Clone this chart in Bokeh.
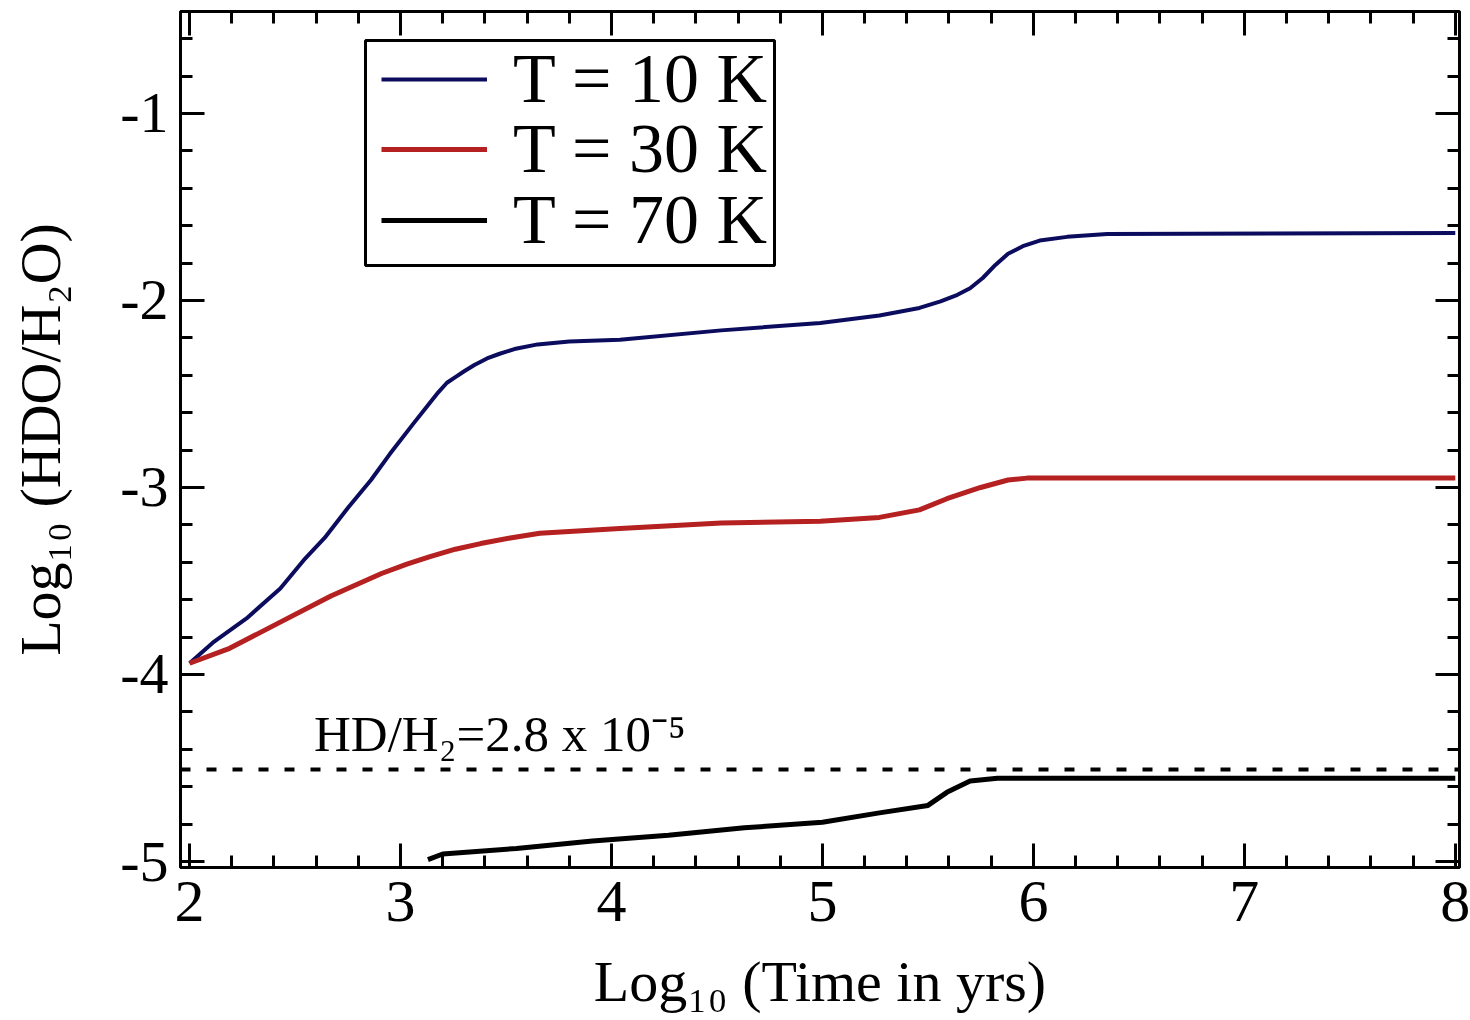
from bokeh.plotting import figure
from bokeh.models import (LinearAxis, FixedTicker, Span, Label, Legend,
                          LegendItem, Range1d, CustomLabelingPolicy, BoxAnnotation)
from bokeh.embed import file_html
from bokeh.resources import INLINE

# ---------------- data ----------------
x_10K = [2.0, 2.11, 2.27, 2.43, 2.54, 2.64, 2.75, 2.86, 2.95, 3.06, 3.13, 3.18,
         3.22, 3.26, 3.30, 3.35, 3.41, 3.47, 3.54, 3.65, 3.80, 4.04, 4.52, 4.99,
         5.27, 5.46, 5.56, 5.64, 5.70, 5.76, 5.82, 5.88, 5.95, 6.03, 6.16, 6.35, 8.0]
y_10K = [-3.94, -3.83, -3.70, -3.54, -3.39, -3.27, -3.11, -2.96, -2.82, -2.66,
         -2.56, -2.49, -2.44, -2.41, -2.38, -2.345, -2.31, -2.285, -2.26, -2.235,
         -2.22, -2.21, -2.16, -2.12, -2.08, -2.04, -2.005, -1.97, -1.935, -1.88,
         -1.81, -1.75, -1.71, -1.68, -1.66, -1.645, -1.64]

x_30K = [2.0, 2.19, 2.43, 2.67, 2.91, 3.03, 3.14, 3.26, 3.38, 3.52, 3.66, 3.80,
         4.04, 4.52, 4.99, 5.27, 5.46, 5.59, 5.75, 5.88, 5.97, 8.0]
y_30K = [-3.94, -3.86, -3.72, -3.58, -3.46, -3.41, -3.37, -3.33, -3.30, -3.27,
         -3.245, -3.235, -3.22, -3.19, -3.18, -3.16, -3.12, -3.06, -3.00, -2.96,
         -2.95, -2.95]

x_70K = [3.13, 3.20, 3.55, 3.91, 4.27, 4.63, 5.00, 5.27, 5.50, 5.59, 5.70, 5.83, 8.0]
y_70K = [-4.99, -4.96, -4.93, -4.89, -4.86, -4.82, -4.79, -4.74, -4.70, -4.63,
         -4.57, -4.555, -4.555]

hd_level = -4.508
series_labels = ["T = 10 K", "T = 30 K", "T = 70 K"]
series_colors = ["#0c0c5e", "#b52020", "#000000"]

x_ticks = [2, 3, 4, 5, 6, 7, 8]
x_minor = [round(2 + 0.2 * i, 1) for i in range(0, 31)]
y_ticks = [-5, -4, -3, -2, -1]
y_minor = [round(-5 + 0.2 * i, 1) for i in range(0, 23)]
x_tick_labels = {t: str(t) for t in x_ticks}
y_tick_labels = {t: "-" + str(abs(t)) for t in y_ticks}

FONT = "Liberation Serif"

# ---------------- figure ----------------
p = figure(width=1470, height=1020, output_backend="svg", toolbar_location=None,
           x_range=Range1d(1.957, 8.02), y_range=Range1d(-5.032, -0.455),
           min_border_left=180, min_border_right=11, min_border_top=11,
           min_border_bottom=153)
p.xgrid.visible = False
p.ygrid.visible = False
p.outline_line_color = "black"
p.outline_line_width = 3
p.background_fill_color = "white"
p.border_fill_color = "white"

no_labels = CustomLabelingPolicy(code="""
for (const i of indices) { indices.unset(i) }
return indices
""")


def style_axis(ax, ticks, minor, labels, show_labels):
    ax.ticker = FixedTicker(ticks=ticks, minor_ticks=minor)
    ax.major_tick_in = 24
    ax.major_tick_out = 0
    ax.minor_tick_in = 12
    ax.minor_tick_out = 0
    ax.major_tick_line_width = 3
    ax.minor_tick_line_width = 3
    ax.axis_line_width = 3
    ax.major_tick_line_color = "black"
    ax.minor_tick_line_color = "black"
    ax.axis_line_color = "black"
    if show_labels:
        ax.major_label_overrides = labels
        ax.major_label_text_font = FONT
        ax.major_label_text_font_size = "58px"
        ax.major_label_text_color = "black"
    else:
        ax.major_label_policy = no_labels
        ax.major_label_text_font_size = "1px"
        ax.major_label_standoff = 0


xa = p.xaxis[0]
ya = p.yaxis[0]
style_axis(xa, x_ticks, x_minor, x_tick_labels, True)
style_axis(ya, y_ticks, y_minor, y_tick_labels, True)
xa.major_label_text_font_size = "60px"
xa.major_label_standoff = 14
ya.major_label_standoff = 12
xa.axis_label = "Log₁₀ (Time in yrs)"
ya.axis_label = "Log₁₀ (HDO/H₂O)"
for ax in (xa, ya):
    ax.axis_label_text_font = FONT
    ax.axis_label_text_font_size = "58px"
    ax.axis_label_text_font_style = "normal"
    ax.axis_label_text_color = "black"
xa.axis_label_standoff = 25
ya.axis_label_standoff = 44

top = LinearAxis()
right = LinearAxis()
style_axis(top, x_ticks, x_minor, None, False)
style_axis(right, y_ticks, y_minor, None, False)
p.add_layout(top, "above")
p.add_layout(right, "right")

# ---------------- lines ----------------
r10 = p.line(x_10K, y_10K, line_color=series_colors[0], line_width=4)
r30 = p.line(x_30K, y_30K, line_color=series_colors[1], line_width=5)
r70 = p.line(x_70K, y_70K, line_color=series_colors[2], line_width=5)

p.add_layout(Span(location=hd_level, dimension="width", line_color="black",
                  line_width=4, line_dash="10 16"))

p.add_layout(Label(x=2.59, y=-4.32, text="HD/H₂=2.8 x 10⁻⁵",
                   text_font=FONT, text_font_size="51px",
                   text_baseline="alphabetic", text_color="black"))

# ---------------- legend (frame + one row per series) ----------------
p.add_layout(BoxAnnotation(left=185, right=594, bottom=602, top=827,
                           left_units="screen", right_units="screen",
                           bottom_units="screen", top_units="screen",
                           fill_color="white", fill_alpha=1.0,
                           line_color="black", line_alpha=1.0, line_width=3,
                           editable=False))

row_bottoms = [748, 678, 607]
for renderer, lab, yb in zip([r10, r30, r70], series_labels, row_bottoms):
    lg = Legend(items=[LegendItem(label=lab, renderers=[renderer])],
                location=(201, yb))
    lg.label_text_font = FONT
    lg.label_text_font_size = "70px"
    lg.label_text_color = "black"
    lg.glyph_width = 106
    lg.glyph_height = 30
    lg.label_standoff = 26
    lg.padding = 0
    lg.spacing = 0
    lg.margin = 0
    lg.border_line_alpha = 0
    lg.background_fill_alpha = 0
    p.add_layout(lg)

open("out.html", "w").write(file_html(p, INLINE))
